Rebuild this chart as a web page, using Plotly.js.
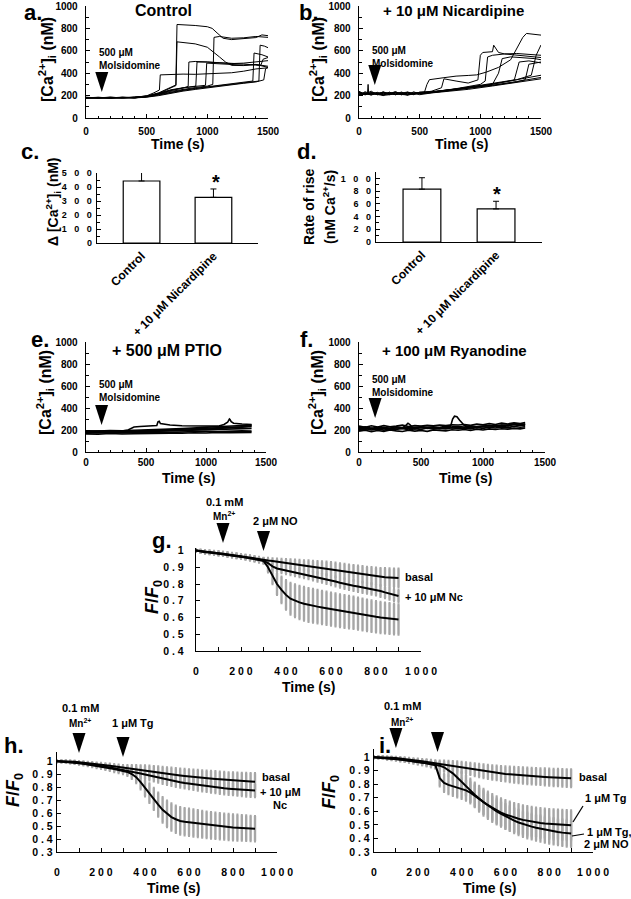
<!DOCTYPE html>
<html>
<head>
<meta charset="utf-8">
<script src="https://cdn.plot.ly/plotly-3.0.1.min.js"></script>
<style>
html, body { margin: 0; padding: 0; background: #fff; }
#plot { width: 631px; height: 899px; }
</style>
</head>
<body>
<div id="plot"></div>
<script>
// ---- a. Control: single-cell traces (time s, [Ca2+]i nM)
const ctrlTimes = [
  [0,100,200,300,400,500,600,700,740,750,800,900,1000,1040,1080,1130,1200,1300,1400,1450,1500],
  [0,100,200,300,400,500,600,700,742,750,800,900,1000,1050,1100,1150,1200,1300,1400,1500],
  [0,100,200,300,400,500,560,605,612,700,800,900,1000,1100,1200,1300,1400,1500],
  [0,100,200,300,400,500,600,700,800,842,848,900,1000,1100,1200,1300,1400,1440,1460,1500],
  [0,100,200,300,400,500,600,700,800,905,915,1000,1100,1200,1300,1400,1500],
  [0,100,200,300,400,500,600,700,800,900,1000,1045,1055,1100,1200,1300,1400,1500],
  [0,100,200,300,400,500,600,700,800,900,985,995,1100,1200,1300,1400,1500],
  [0,100,200,300,400,500,600,700,800,900,1000,1100,1200,1300,1375,1385,1450,1500],
  [0,100,200,300,400,500,600,700,800,900,1000,1100,1200,1300,1425,1435,1470,1500],
  [0,100,200,300,400,500,600,700,800,900,1000,1100,1200,1300,1400,1465,1480,1500]
];
const ctrlVals = [
  [182,178,184,180,186,195,225,270,295,835,833,826,815,800,760,712,700,708,718,742,735],
  [178,184,180,186,181,192,220,265,290,680,676,662,632,592,545,500,470,468,478,452],
  [185,180,186,179,184,198,225,250,385,390,392,390,393,398,404,418,438,448],
  [176,182,178,184,180,190,215,245,268,282,500,505,500,496,490,482,472,470,525,540],
  [183,177,183,178,185,194,218,248,268,285,500,500,492,486,490,500,512],
  [180,185,179,183,178,192,212,238,258,272,285,300,720,728,712,716,728,720],
  [184,179,185,181,187,196,222,252,270,282,292,490,486,480,472,478,462],
  [179,183,177,185,182,190,210,232,250,265,280,295,308,320,330,580,565,545],
  [181,178,182,179,183,188,205,228,246,262,276,290,302,315,330,650,642,628],
  [177,181,176,182,179,186,200,222,240,255,270,283,296,310,322,340,440,452]
];

// ---- b. + 10 uM Nicardipine
const nicTimes = [
  [0,40,70,75,80,120,160,200,250,300,350,400,450,500,540,560,580,700,800,900,970,1050,1150,1250,1300,1350,1380,1450,1500],
  [0,50,100,150,200,250,300,350,400,450,500,600,680,700,800,900,980,1000,1020,1100,1110,1150,1200,1300,1400,1500],
  [0,50,100,150,200,250,300,350,400,450,500,600,800,1000,1040,1060,1100,1200,1300,1400,1500],
  [0,50,100,150,200,250,300,350,400,450,500,600,800,1000,1100,1150,1180,1250,1350,1450,1500],
  [0,50,100,150,200,250,300,350,400,450,500,600,800,1000,1200,1280,1320,1400,1500],
  [0,100,200,300,400,500,600,900,1100,1300,1420,1460,1500],
  [0,100,200,300,400,500,600,900,1100,1300,1370,1400,1500],
  [0,100,200,300,400,500,600,900,1100,1300,1500],
  [0,100,200,300,400,500,600,900,1100,1300,1500],
  [0,100,200,300,400,500,600,900,1100,1300,1500]
];
const nicVals = [
  [225,215,222,300,215,228,212,224,210,226,214,222,218,225,232,300,342,360,374,380,385,410,452,520,620,720,755,745,740],
  [210,228,205,230,208,226,212,232,210,225,220,240,270,350,330,312,340,560,585,592,650,585,572,562,552,540],
  [232,206,226,210,235,208,228,206,230,212,224,232,262,300,330,545,560,572,576,566,560],
  [200,235,212,224,200,232,206,228,204,234,215,226,252,282,300,400,530,546,540,530,520],
  [238,212,240,206,226,214,236,210,228,208,232,236,258,292,322,340,500,510,492],
  [214,226,218,230,216,228,232,272,302,342,382,560,652],
  [206,218,202,214,206,220,226,262,292,322,342,480,500],
  [222,212,226,210,224,216,230,270,302,342,382],
  [205,224,208,222,206,226,232,266,292,326,362],
  [228,206,230,212,232,208,224,256,286,316,350]
];

// ---- e. + 500 uM PTIO
const ptioBandT = [0,100,200,300,400,500,600,700,800,900,1000,1100,1200,1300,1380];
const ptioTimes = [ptioBandT, ptioBandT, ptioBandT, ptioBandT, ptioBandT, ptioBandT,
  [0,100,200,300,350,380,400,450,500,560,590,600,610,620,650,700,800,900,1000,1100,1150,1180,1195,1200,1210,1230,1300,1380]];
const ptioVals = [
  [165,162,168,163,166,170,168,172,170,175,173,178,176,180,178],
  [172,175,170,174,172,176,180,178,183,185,188,186,190,192,190],
  [180,178,183,180,185,183,188,192,195,198,202,205,210,212,215],
  [186,190,187,192,190,195,198,202,205,210,215,220,225,228,232],
  [193,190,195,192,198,200,205,208,213,218,222,226,232,238,245],
  [178,183,176,185,182,188,190,195,198,203,208,212,220,225,240],
  [185,188,186,190,200,215,228,232,235,238,240,275,280,258,252,245,238,235,232,235,250,270,300,295,275,262,255,250]
];

// ---- f. + 100 uM Ryanodine
const ryaBandT = [0,50,100,150,200,250,300,350,400,450,500,550,600,650,700,750,800,850,900,950,1000,1050,1100,1150,1200,1250,1300,1340];
const ryaTimes = [ryaBandT, ryaBandT, ryaBandT, ryaBandT, ryaBandT,
  [0,100,200,300,350,380,395,410,430,500,600,700,740,755,770,790,810,850,900,1000,1100,1200,1300,1340]];
const ryaVals = [
  [205,215,200,212,198,210,205,215,200,212,205,218,208,215,210,220,212,218,210,222,215,225,218,228,220,232,225,230],
  [220,228,215,225,222,218,230,222,228,220,232,225,230,222,235,228,232,226,238,230,236,240,232,245,238,250,242,255],
  [190,198,185,195,188,200,192,186,198,190,196,188,200,195,192,202,198,205,196,208,200,210,205,212,208,215,210,218],
  [235,225,238,228,240,230,235,245,232,240,235,242,238,245,240,248,245,250,242,255,248,258,250,262,255,265,258,268],
  [212,205,218,208,215,206,220,212,216,210,222,214,218,212,225,218,222,216,228,220,230,222,235,228,240,232,245,240],
  [215,210,212,215,220,245,262,250,225,220,222,225,240,300,325,320,290,240,230,235,240,245,250,255]
];

// ---- c. / d. bar summaries
const barCats = ['Control', '+ 10 \u03bcM Nicardipine'];
const deltaCa = [443, 326];
const deltaCaErr = [64, 60];
const riseRate = [83, 52];
const riseRateErr = [18, 12];

// ---- g. / h. / i. Mn2+ quench (F/F0), sampled every 20 s
const tMn = [0,20,40,60,80,100,120,140,160,180,200,220,240,260,280,300,320,340,360,380,400,420,440,460,480,500,
  520,540,560,580,600,620,640,660,680,700,720,740,760,780,800,820,840,860,880,900];

const gBasal = [1.000,0.995,0.992,0.990,0.987,0.985,0.982,0.978,0.974,0.970,0.966,0.962,0.957,0.952,0.947,0.942,
  0.940,0.937,0.933,0.930,0.926,0.922,0.919,0.915,0.911,0.908,0.904,0.900,0.897,0.893,0.889,0.885,0.880,0.876,0.871,0.867,0.862,0.858,0.853,0.850,0.846,0.843,0.841,0.839,0.837,0.836];
const gBasalErr = [0.008,0.008,0.009,0.009,0.010,0.010,0.010,0.011,0.011,0.012,0.012,0.012,0.013,0.013,0.014,0.014,
  0.015,0.016,0.018,0.020,0.022,0.024,0.026,0.028,0.030,0.032,0.034,0.036,0.038,0.040,0.041,0.042,0.043,0.044,0.045,0.046,0.047,0.048,0.049,0.050,0.051,0.052,0.053,0.054,0.055,0.056];
const gNc = [1.000,0.994,0.990,0.988,0.985,0.982,0.979,0.975,0.971,0.967,0.963,0.959,0.954,0.949,0.944,0.939,
  0.925,0.905,0.893,0.887,0.882,0.877,0.872,0.867,0.861,0.855,0.848,0.842,0.836,0.829,0.822,0.815,0.808,0.801,0.795,0.790,0.785,0.780,0.775,0.770,0.765,0.758,0.750,0.742,0.734,0.728];
const gNcErr = [0.008,0.008,0.009,0.009,0.010,0.010,0.010,0.011,0.011,0.012,0.012,0.012,0.013,0.013,0.014,0.014,
  0.016,0.018,0.020,0.021,0.022,0.023,0.024,0.025,0.025,0.026,0.026,0.027,0.027,0.028,0.028,0.029,0.029,0.030,0.030,0.031,0.031,0.032,0.032,0.033,0.033,0.034,0.034,0.035,0.035,0.036];
const gNO = [1.000,0.996,0.991,0.989,0.986,0.983,0.980,0.976,0.972,0.968,0.964,0.960,0.955,0.950,0.945,0.938,
  0.900,0.850,0.800,0.765,0.735,0.712,0.700,0.690,0.682,0.675,0.670,0.665,0.660,0.655,0.650,0.645,0.640,0.636,0.632,0.628,0.623,0.618,0.613,0.608,0.604,0.600,0.597,0.594,0.591,0.588];
const gNOErr = [0.008,0.009,0.009,0.010,0.010,0.011,0.011,0.012,0.012,0.013,0.013,0.014,0.014,0.015,0.015,0.016,
  0.030,0.050,0.065,0.078,0.088,0.094,0.097,0.099,0.100,0.100,0.100,0.100,0.099,0.099,0.098,0.098,0.097,0.097,0.096,0.096,0.095,0.095,0.094,0.094,0.093,0.093,0.092,0.092,0.091,0.090];

const hBasal = [1.000,1.000,1.000,0.998,0.996,0.993,0.990,0.986,0.982,0.978,0.974,0.970,0.966,0.961,0.956,0.951,
  0.947,0.943,0.938,0.933,0.928,0.923,0.918,0.913,0.908,0.903,0.899,0.895,0.891,0.887,0.883,0.879,0.876,0.873,0.870,0.867,0.864,0.861,0.858,0.855,0.853,0.851,0.849,0.847,0.845,0.843];
const hBasalErr = [0.006,0.006,0.007,0.007,0.008,0.008,0.009,0.010,0.011,0.012,0.013,0.014,0.015,0.016,0.018,0.020,
  0.024,0.028,0.032,0.036,0.040,0.043,0.045,0.047,0.048,0.050,0.051,0.052,0.053,0.054,0.055,0.056,0.057,0.057,0.058,0.058,0.059,0.059,0.060,0.060,0.061,0.062,0.062,0.063,0.064,0.065];
const hNc = [1.000,1.000,0.998,0.995,0.992,0.988,0.984,0.979,0.974,0.969,0.964,0.959,0.953,0.947,0.941,0.935,
  0.928,0.921,0.914,0.906,0.898,0.890,0.882,0.874,0.866,0.859,0.852,0.845,0.839,0.833,0.828,0.823,0.818,0.813,0.808,0.804,0.800,0.796,0.792,0.789,0.786,0.783,0.780,0.778,0.776,0.775];
const hNcErr = [0.006,0.006,0.007,0.008,0.009,0.010,0.011,0.012,0.013,0.014,0.016,0.018,0.020,0.022,0.024,0.026,
  0.028,0.030,0.032,0.034,0.035,0.036,0.037,0.038,0.039,0.040,0.040,0.041,0.041,0.042,0.042,0.043,0.043,0.044,0.044,0.045,0.045,0.046,0.046,0.047,0.047,0.048,0.048,0.049,0.049,0.050];
const hTg = [1.000,0.998,0.996,0.993,0.990,0.986,0.981,0.976,0.970,0.964,0.958,0.952,0.946,0.940,0.934,0.928,
  0.918,0.902,0.878,0.840,0.795,0.755,0.710,0.665,0.625,0.595,0.570,0.553,0.540,0.534,0.530,0.524,0.519,0.514,0.510,0.506,0.502,0.499,0.496,0.493,0.490,0.488,0.486,0.484,0.482,0.480];
const hTgErr = [0.006,0.007,0.008,0.009,0.010,0.011,0.012,0.013,0.014,0.015,0.016,0.018,0.020,0.022,0.024,0.026,
  0.030,0.036,0.045,0.055,0.065,0.075,0.085,0.092,0.098,0.102,0.104,0.105,0.105,0.105,0.104,0.104,0.103,0.103,0.102,0.102,0.101,0.101,0.100,0.100,0.099,0.099,0.098,0.098,0.097,0.097];

const iBasal = [1.000,1.000,0.999,0.997,0.995,0.993,0.990,0.986,0.982,0.978,0.974,0.969,0.964,0.959,0.954,0.949,
  0.945,0.941,0.936,0.931,0.925,0.919,0.913,0.907,0.901,0.896,0.891,0.887,0.883,0.879,0.876,0.873,0.870,0.867,0.864,0.862,0.860,0.858,0.856,0.854,0.852,0.850,0.849,0.847,0.846,0.845];
const iBasalErr = [0.006,0.006,0.007,0.007,0.008,0.009,0.010,0.011,0.012,0.013,0.014,0.016,0.018,0.020,0.022,0.025,
  0.028,0.031,0.034,0.037,0.040,0.042,0.044,0.046,0.048,0.050,0.051,0.052,0.053,0.054,0.055,0.056,0.057,0.058,0.059,0.060,0.060,0.061,0.061,0.062,0.062,0.063,0.063,0.064,0.064,0.065];
const iTg = [1.000,0.998,0.996,0.993,0.990,0.987,0.983,0.979,0.975,0.970,0.965,0.960,0.955,0.949,0.943,0.937,
  0.925,0.905,0.880,0.850,0.820,0.790,0.755,0.722,0.693,0.667,0.645,0.625,0.607,0.591,0.577,0.565,0.554,0.545,0.537,0.530,0.524,0.519,0.514,0.510,0.507,0.504,0.502,0.500,0.498,0.497];
const iTgErr = [0.006,0.007,0.008,0.009,0.010,0.011,0.012,0.013,0.014,0.015,0.016,0.018,0.020,0.022,0.024,0.027,
  0.032,0.040,0.050,0.060,0.070,0.078,0.085,0.090,0.095,0.098,0.100,0.102,0.103,0.104,0.105,0.106,0.106,0.107,0.107,0.108,0.108,0.108,0.109,0.109,0.109,0.110,0.110,0.110,0.110,0.110];
const iNO = [1.000,0.998,0.995,0.992,0.989,0.986,0.982,0.978,0.974,0.969,0.964,0.959,0.954,0.948,0.942,0.845,
  0.810,0.795,0.785,0.776,0.767,0.755,0.738,0.715,0.690,0.665,0.642,0.620,0.600,0.581,0.563,0.547,0.532,0.518,0.506,0.496,0.487,0.479,0.472,0.465,0.459,0.453,0.448,0.443,0.439,0.436];
const iNOErr = [0.006,0.007,0.008,0.009,0.010,0.011,0.012,0.013,0.014,0.015,0.016,0.018,0.020,0.022,0.024,0.060,
  0.065,0.068,0.070,0.072,0.074,0.076,0.078,0.080,0.082,0.084,0.086,0.087,0.088,0.089,0.090,0.091,0.092,0.093,0.093,0.094,0.094,0.095,0.095,0.096,0.096,0.097,0.097,0.098,0.098,0.098];

// drug additions (s)
const molsAt = 130;
const mnAt = [120, 100, 100];
const secondAt = [300, 300, 290];

// ---------------------------------------------------------------
const W = 631, H = 899;
const FONT = 'Liberation Sans, Arial, Helvetica, sans-serif';
const px = v => v / W;
const py = v => 1 - v / H;
const sp = (s, k) => String(s).split('').join('\u00a0'.repeat(k));

let traces = [];
let layout = {
  width: W, height: H, margin: {l: 0, r: 0, t: 0, b: 0},
  paper_bgcolor: 'white', plot_bgcolor: 'rgba(0,0,0,0)',
  showlegend: false, font: {family: FONT, color: 'black'},
  annotations: [], shapes: []
};

function baseAxis(extra) {
  return Object.assign({
    showline: true, linecolor: 'black', linewidth: 1.3,
    ticks: 'inside', ticklen: 4, tickwidth: 1, tickcolor: 'black',
    showgrid: false, zeroline: false, fixedrange: true,
    tickfont: {family: FONT, size: 10, color: 'black', weight: 'bold'}
  }, extra);
}

// box = [left, right, top, bottom] in pixels
function addAxes(n, box, xo, yo) {
  let s = n === 1 ? '' : String(n);
  layout['xaxis' + s] = baseAxis(Object.assign({domain: [px(box[0]), px(box[1])], anchor: 'y' + s}, xo));
  layout['yaxis' + s] = baseAxis(Object.assign({domain: [py(box[3]), py(box[2])], anchor: 'x' + s}, yo));
}

function traceSet(times, vals, n, w) {
  let s = n === 1 ? '' : String(n);
  times.forEach((t, i) => {
    traces.push({type: 'scatter', mode: 'lines', x: t, y: vals[i], xaxis: 'x' + s, yaxis: 'y' + s,
      line: {color: 'black', width: w}, hoverinfo: 'skip'});
  });
}

function quench(n, series) {
  let s = String(n);
  series.forEach(d => {
    traces.push({type: 'scatter', mode: 'markers', x: tMn, y: d[0], xaxis: 'x' + s, yaxis: 'y' + s,
      marker: {size: 1, color: 'rgba(0,0,0,0)'}, hoverinfo: 'skip',
      error_y: {type: 'data', array: d[1], color: '#a6a6a6', thickness: 2.4, width: 1}});
  });
  series.forEach(d => {
    traces.push({type: 'scatter', mode: 'lines', x: tMn, y: d[0], xaxis: 'x' + s, yaxis: 'y' + s,
      line: {color: 'black', width: 2}, hoverinfo: 'skip'});
  });
}

function bars(n, vals, errs) {
  let s = String(n);
  traces.push({type: 'bar', x: barCats, y: vals, xaxis: 'x' + s, yaxis: 'y' + s, width: 0.51,
    marker: {color: 'white', line: {color: 'black', width: 1.2}}, hoverinfo: 'skip',
    error_y: {type: 'data', symmetric: false, array: errs, arrayminus: [0, 0], color: 'black', thickness: 1, width: 3}});
}

function note(x, y, text, size, o) {
  layout.annotations.push(Object.assign({xref: 'paper', yref: 'paper', x: px(x), y: py(y), text: text,
    showarrow: false, xanchor: 'center', yanchor: 'middle',
    font: {family: FONT, size: size, color: 'black', weight: 'bold'}}, o));
}

function tri(xref, t, tipY) {
  layout.shapes.push({type: 'path', xref: xref, yref: 'paper', xsizemode: 'pixel', ysizemode: 'pixel',
    xanchor: t, yanchor: py(tipY), path: 'M-6.5,20L6.5,20L0,0Z', fillcolor: 'black', line: {width: 0}});
}

function pointer(x0, y0, x1, y1) {
  layout.shapes.push({type: 'line', xref: 'paper', yref: 'paper', x0: px(x0), y0: py(y0), x1: px(x1), y1: py(y1),
    line: {color: 'black', width: 1.2}});
}

// ---- calcium trace panels
const caMinor = {dtick: 100, ticks: 'inside', ticklen: 2.5, tickcolor: 'black'};
const caX = {range: [0, 1500], tickvals: [0, 500, 1000, 1500], ticklabelstandoff: 4, minor: caMinor};
const caXlow = Object.assign({}, caX, {ticklabelstandoff: 1});
const caY = {range: [0, 1000], tickvals: [0, 200, 400, 600, 800, 1000], ticklabelstandoff: 5, minor: caMinor};
addAxes(1, [86, 268, 6, 118], caX, caY);
addAxes(2, [359, 541, 6, 118], caX, caY);
addAxes(5, [86, 266, 342, 452], caXlow, caY);
addAxes(6, [359, 545, 342, 452], caXlow, caY);
traceSet(ctrlTimes, ctrlVals, 1, 1);
traceSet(nicTimes, nicVals, 2, 1);
traceSet(ptioTimes, ptioVals, 5, 1.6);
traceSet(ryaTimes, ryaVals, 6, 1.6);

// ---- bar panels
const catX = {type: 'category', range: [-0.62, 1.62], ticks: '', tickangle: -45,
  tickfont: {family: FONT, size: 12, color: 'black', weight: 'bold'}};
const barFont = {family: FONT, size: 9, color: 'black', weight: 'bold'};
addAxes(3, [97, 258, 173, 243], catX, {range: [0, 500], tickvals: [0, 100, 200, 300, 400, 500],
  ticktext: [0, 100, 200, 300, 400, 500].map(v => sp(v, 3)), ticklabelstandoff: 2, tickfont: barFont,
  minor: {dtick: 50, ticks: 'inside', ticklen: 2.5, tickcolor: 'black'}});
addAxes(4, [376, 542, 172, 242], catX, {range: [0, 110], tickvals: [0, 20, 40, 60, 80, 100],
  ticktext: [0, 20, 40, 60, 80, 100].map(v => sp(v, 3)), ticklabelstandoff: 2, tickfont: barFont,
  minor: {dtick: 10, ticks: 'inside', ticklen: 2.5, tickcolor: 'black'}});
bars(3, deltaCa, deltaCaErr);
bars(4, riseRate, riseRateErr);

// ---- Mn2+ quench panels
const qFont = {family: FONT, size: 10.5, color: 'black', weight: 'bold'};
const qX = {range: [0, 1000], tickvals: [0, 200, 400, 600, 800, 1000],
  ticktext: [0, 200, 400, 600, 800, 1000].map(v => sp(v, 1)), ticklabelstandoff: 10, tickfont: qFont,
  minor: {dtick: 100, ticks: 'inside', ticklen: 4, tickcolor: 'black'}};
const gTicks = [0.4, 0.5, 0.6, 0.7, 0.8, 0.9, 1];
const hiTicks = [0.3, 0.4, 0.5, 0.6, 0.7, 0.8, 0.9, 1];
addAxes(7, [196, 421, 548, 651], qX, {range: [0.4, 1.015], tickvals: gTicks,
  ticktext: gTicks.map(v => sp(v, 1)), ticklabelstandoff: 9, tickfont: qFont});
addAxes(8, [57, 277, 752, 852], qX, {range: [0.3, 1.072], tickvals: hiTicks,
  ticktext: hiTicks.map(v => sp(v, 1)), ticklabelstandoff: 1, tickfont: qFont});
addAxes(9, [374, 593, 749, 852], qX, {range: [0.3, 1.06], tickvals: hiTicks,
  ticktext: hiTicks.map(v => sp(v, 1)), ticklabelstandoff: 1, tickfont: qFont});
quench(7, [[gBasal, gBasalErr], [gNc, gNcErr], [gNO, gNOErr]]);
quench(8, [[hBasal, hBasalErr], [hNc, hNcErr], [hTg, hTgErr]]);
quench(9, [[iBasal, iBasalErr], [iTg, iTgErr], [iNO, iNOErr]]);

// ---- arrows (additions)
tri('x', molsAt, 92);
tri('x2', molsAt, 85);
tri('x5', molsAt, 425);
tri('x6', molsAt, 418);
tri('x7', mnAt[0], 543);
tri('x7', secondAt[0], 551);
tri('x8', mnAt[1], 753);
tri('x8', secondAt[1], 757);
tri('x9', mnAt[2], 748);
tri('x9', secondAt[2], 752);

// ---- text
const caTitle = '[Ca<sup>2+</sup>]<sub>i</sub> (nM)';
const ffTitle = '<i>F</i>/<i>F</i><sub>0</sub>';
const mu = '\u03bc';

[['a.', 33, 13], ['b.', 309, 13], ['c.', 30, 152], ['d.', 307, 152], ['e.', 40, 340],
 ['f.', 306, 340], ['g.', 162, 540], ['h.', 14, 745], ['i.', 385, 745]].forEach(l => note(l[1], l[2], l[0], 22));

note(163, 11, 'Control', 16);
note(453, 10, '+ 10 ' + mu + 'M Nicardipine', 15);
note(167, 350, '+ 500 ' + mu + 'M PTIO', 16);
note(454, 350, '+ 100 ' + mu + 'M Ryanodine', 15);

[[97, 59], [370, 57], [97, 391], [370, 386]].forEach(p =>
  note(p[0], p[1], '500 ' + mu + 'M<br>Molsidomine', 10, {xanchor: 'left', align: 'left'}));

[[178, 144], [461, 144], [188, 478], [465, 478], [308, 687], [173, 888], [489, 888]].forEach(p =>
  note(p[0], p[1], 'Time (s)', 14));

[[47, 60], [318, 60], [45, 393], [317, 393]].forEach(p => note(p[0], p[1], caTitle, 16, {textangle: -90}));
note(53, 202, '\u0394 [Ca<sup>2+</sup>]<sub>i</sub> (nM)', 14, {textangle: -90});
note(309, 207, 'Rate of rise', 14, {textangle: -90});
note(329, 207, '(nM Ca<sup>2+</sup>/s)', 14, {textangle: -90});
[[153, 597], [14, 790], [330, 792]].forEach(p => note(p[0], p[1], ffTitle, 18, {textangle: -90}));

note(216, 182, '*', 20);
note(497, 194, '*', 20);

note(224, 502, '0.1 mM', 11);
note(224, 516, 'Mn<sup>2+</sup>', 10);
note(275, 521, '2 ' + mu + 'M NO', 11);
note(403, 577, 'basal', 11, {xanchor: 'left'});
note(403, 597, '+ 10 ' + mu + 'M Nc', 11, {xanchor: 'left'});

note(80, 708, '0.1 mM', 11);
note(80, 723, 'Mn<sup>2+</sup>', 10);
note(133, 723, '1 ' + mu + 'M Tg', 11);
note(260, 777, 'basal', 11, {xanchor: 'left'});
note(280, 792, '+ 10 ' + mu + 'M', 11);
note(280, 805, 'Nc', 11);

note(402, 706, '0.1 mM', 11);
note(402, 722, 'Mn<sup>2+</sup>', 10);
note(577, 777, 'basal', 11, {xanchor: 'left'});
note(583, 798, '1 ' + mu + 'M Tg', 11, {xanchor: 'left'});
note(585, 832, '1 ' + mu + 'M Tg,', 11, {xanchor: 'left'});
note(582, 844, '2 ' + mu + 'M NO', 11, {xanchor: 'left'});
pointer(583, 806, 573, 822);
pointer(584, 834, 572, 836);

Plotly.newPlot('plot', traces, layout, {staticPlot: true});
</script>
</body>
</html>
